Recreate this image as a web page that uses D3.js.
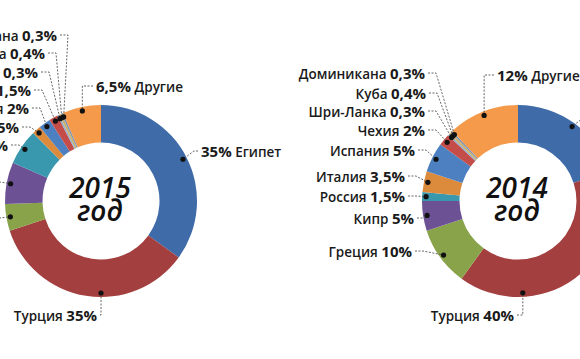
<!DOCTYPE html>
<html>
<head>
<meta charset="utf-8">
<script src="https://cdn.jsdelivr.net/npm/d3@7/dist/d3.min.js"></script>
<style>
  html, body { margin: 0; padding: 0; background: #fff; }
  svg { display: block; }
</style>
</head>
<body>
<svg id="chart" width="580" height="359"></svg>
<script>
// ---------- DATA ----------
const categories = ['Египет','Турция','Греция','Кипр','Россия','Италия','Испания','Чехия','Шри-Ланка','Куба','Доминикана','Другие'];
const values2015 = [35, 35, 4.5, 7, 6, 1.5, 2, 1.5, 0.3, 0.4, 0.3, 6.5];
const values2014 = [20, 40, 10, 5, 1.5, 3.5, 5, 2, 0.3, 0.4, 0.3, 12];
const yearLabels = ['2015', '2014'];
const centerWord = 'год';

// ---------- STYLE / LAYOUT ----------
const colors = ['#3f6ba8','#a33f3e','#89a34b','#6c5195','#3a98ae','#dc8a3b','#4c80c0','#c44d4a','#94aed0','#c9b36b','#7f93b5','#f59a4b'];
const rOuter = 96, rInner = 58.5, rDot = 92;
const charts = [
  { values: values2015, year: yearLabels[0], cx: 101, cy: 201,
    // label offsets from centre: [dx, dy, anchor, leader type, dot angle override (deg)]
    labels: {
      'Египет':     [100, -50, 'start', 'diag'],
      'Турция':     [-4, 114, 'end', 'elbow', 180],
      'Греция':     [-112, 17, 'end', 'diag'],
      'Кипр':       [-112, -19, 'end', 'diag'],
      'Россия':     [-93, -56, 'end', 'diag'],
      'Италия':     [-82, -74, 'end', 'diag'],
      'Испания':    [-72, -93, 'end', 'diag'],
      'Чехия':      [-70, -111, 'end', 'diag'],
      'Шри-Ланка':  [-63, -129, 'end', 'diag'],
      'Куба':       [-56, -148, 'end', 'diag'],
      'Доминикана': [-44, -166, 'end', 'diag'],
      'Другие':     [-5, -115, 'start', 'elbow']
    }
  },
  { values: values2014, year: yearLabels[1], cx: 518, cy: 201,
    labels: {
      'Египет':     [72, -83, 'start', 'diag'],
      'Турция':     [-4, 114, 'end', 'elbow', 177],
      'Греция':     [-106, 50, 'end', 'diag'],
      'Кипр':       [-104, 17, 'end', 'diag'],
      'Россия':     [-113, -5, 'end', 'diag'],
      'Италия':     [-113, -25, 'end', 'diag'],
      'Испания':    [-103, -51, 'end', 'diag'],
      'Чехия':      [-93, -71, 'end', 'diag'],
      'Шри-Ланка':  [-93, -90, 'end', 'diag'],
      'Куба':       [-92, -108, 'end', 'diag'],
      'Доминикана': [-93, -128, 'end', 'diag'],
      'Другие':     [-21, -126, 'start', 'elbow']
    }
  }
];

const fmt = v => String(v).replace('.', ',') + '%';
const svg = d3.select('#chart');
const pie = d3.pie().sort(null).value(d => d).startAngle(0).endAngle(2 * Math.PI);
const arc = d3.arc().innerRadius(rInner).outerRadius(rOuter);

charts.forEach(ch => {
  const g = svg.append('g').attr('transform', `translate(${ch.cx},${ch.cy})`);
  const arcs = pie(ch.values);

  g.selectAll('path.slice').data(arcs).enter().append('path')
    .attr('class', 'slice')
    .attr('d', arc)
    .attr('fill', (d, i) => colors[i]);

  // centre text
  const ct = g.append('text')
    .attr('text-anchor', 'middle')
    .style('font-family', '"Open Sans", sans-serif')
    .style('font-style', 'italic')
    .style('font-weight', 600)
    .style('font-size', '28px')
    .attr('fill', '#111');
  ct.append('tspan').attr('x', -1).attr('y', -3).text(ch.year);
  ct.append('tspan').attr('x', -1).attr('y', 20).text(centerWord);

  // labels
  arcs.forEach((a, i) => {
    const name = categories[i];
    const L = ch.labels[name];
    if (!L) return;
    const [dx, dy, anchor, type, angOverride] = L;
    const ang = angOverride !== undefined ? angOverride * Math.PI / 180 : (a.startAngle + a.endAngle) / 2;
    const px = rDot * Math.sin(ang), py = -rDot * Math.cos(ang);

    const t = g.append('text')
      .attr('x', dx).attr('y', dy)
      .attr('dy', '0.36em')
      .attr('text-anchor', anchor)
      .style('font-family', '"Open Sans", sans-serif')
      .attr('fill', '#1a1a1a');
    const nameSpan = s => s.append('tspan').style('font-weight', 600).style('font-size', '13.5px');
    const valSpan = s => s.append('tspan').style('font-weight', 700).style('font-size', '15px');
    if (anchor === 'end') {
      nameSpan(t).text(name + ' ');
      valSpan(t).text(fmt(ch.values[i]));
    } else {
      valSpan(t).text(fmt(ch.values[i]));
      nameSpan(t).text(' ' + name);
    }

    // leader line
    const sx = anchor === 'end' ? dx + 3 : dx - 3;
    let path;
    if (type === 'elbow') {
      path = `M${sx},${dy}H${px}V${py}`;
    } else {
      const kx = anchor === 'end' ? sx + 8 : sx - 4;
      path = `M${sx},${dy}H${kx}L${px},${py}`;
    }
    g.append('path')
      .attr('d', path)
      .attr('fill', 'none')
      .attr('stroke', '#555')
      .attr('stroke-width', 0.9)
      .attr('stroke-dasharray', '2,1.5');
    g.append('circle')
      .attr('cx', px).attr('cy', py).attr('r', 2.6)
      .attr('fill', '#111');
  });
});
</script>
</body>
</html>
